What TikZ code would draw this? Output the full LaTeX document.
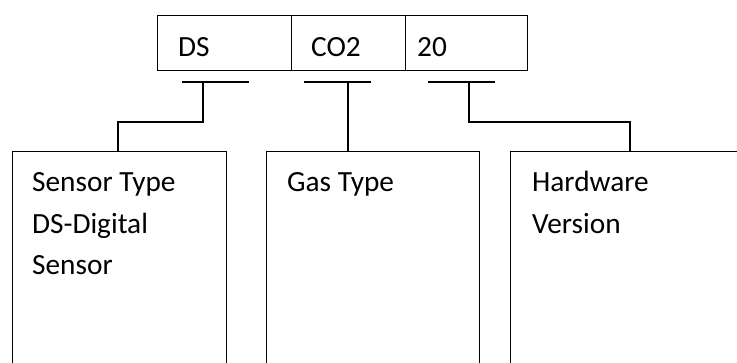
\documentclass[tikz,border=0pt]{standalone}
\usepackage{fontspec}
\setmainfont{Carlito}
\begin{document}
\begin{tikzpicture}[x=1pt,y=-1pt,
  ln/.style={line width=1.3pt,black},
  cell/.style={draw,ln,minimum height=55pt,inner sep=0pt,anchor=north west},
  bigbox/.style={draw,ln,minimum height=260pt,inner sep=0pt,anchor=north west},
  lbl/.style={inner sep=0pt,anchor=base west,align=left,font=\fontsize{29.3}{41.5}\selectfont}]
\useasboundingbox (0,0) rectangle (737,363);
\clip (0,0) rectangle (737,363);
% top code boxes
\node[cell,minimum width=134pt] (c1) at (157,15) {};
\node[cell,minimum width=114pt] (c2) at (291,15) {};
\node[cell,minimum width=122pt] (c3) at (405,15) {};
\node[lbl] (tc1) at (178,57) {DS};
\node[lbl] (tc2) at (311,57) {CO2};
\node[lbl] (tc3) at (417,57) {20};
% bottom description boxes
\node[bigbox,minimum width=214pt] (b1) at (12,151) {};
\node[bigbox,minimum width=213pt] (b2) at (266,151) {};
\node[bigbox,minimum width=300pt] (b3) at (510,151) {};
% multi-line labels: anchored at the baseline of their last line
\node[lbl] (tb1) at (32,275) {Sensor Type\\DS-Digital\\Sensor};
\node[lbl] (tb2) at (287,192) {Gas Type};
\node[lbl] (tb3) at (532,233.5) {Hardware\\Version};
% bracket bars
\coordinate (l1) at (182,82); \coordinate (r1) at (249,82); \coordinate (k1) at (203,82);
\coordinate (l2) at (304,82); \coordinate (r2) at (371,82); \coordinate (k2) at (348,82);
\coordinate (l3) at (428,82); \coordinate (r3) at (495,82); \coordinate (k3) at (469,82);
\draw[ln] (l1) -- (r1);
\draw[ln] (l2) -- (r2);
\draw[ln] (l3) -- (r3);
% connectors
\coordinate (p1) at (118,151);
\coordinate (p2) at (348,151);
\coordinate (p3) at (630,151);
\draw[ln] (k1) -- ++(0,40) -| (p1);
\draw[ln] (k2) -- (p2);
\draw[ln] (k3) -- ++(0,40) -| (p3);
\end{tikzpicture}
\end{document}
